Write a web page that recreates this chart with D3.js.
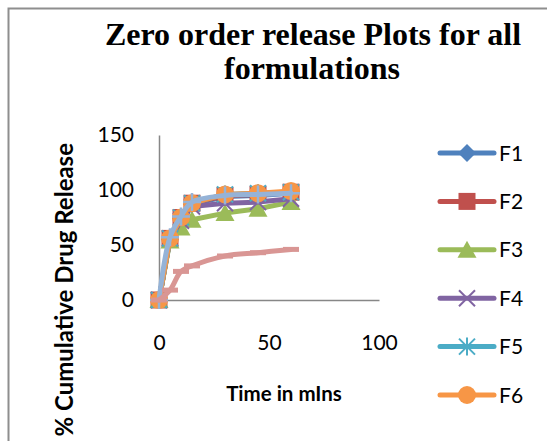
<!DOCTYPE html>
<html>
<head>
<meta charset="utf-8">
<script src="https://cdn.jsdelivr.net/npm/d3@7"></script>
<style>
  html, body { margin: 0; padding: 0; background: #ffffff; }
  svg { display: block; }
</style>
</head>
<body>
<svg id="chart" width="547" height="441"></svg>
<script>
// Sampling times (minutes)
const times = [0, 5, 10, 15, 30, 45, 60];

// Cumulative % drug release per formulation
const seriesNames = ["F1", "F2", "F3", "F4", "F5", "F6"];
const f1 = [0, 55, 74, 87, 94, 95, 97];
const f2 = [0, 56, 75, 88, 95, 96, 98];
const f3 = [0, 54, 66, 73, 79, 83, 89];
const f4 = [0, 56, 72, 85, 88, 89, 92];
const f5 = [0, 56, 75, 88, 96, 97, 98];
const f6 = [0, 56, 75, 88, 96, 97, 99];
// Two further smoothed series plotted without legend entries
const f7 = [0, 57, 76, 89, 95, 96, 97];
const f8 = [0, 9, 26, 31, 40, 43, 46];

const xTicks = [0, 50, 100];
const yTicks = [0, 50, 100, 150];

const colors = ["#4F81BD", "#C0504D", "#9BBB59", "#8064A2", "#4BACC6", "#F79646"];
const markerKinds = ["diamond", "square", "triangle", "x", "star", "circle"];
const values = [f1, f2, f3, f4, f5, f6];

const svg = d3.select("#chart");
const W = 547, H = 441;

// chart frame
svg.append("rect").attr("x", 0).attr("y", 0).attr("width", W).attr("height", H).attr("fill", "#fff");
svg.append("rect")
  .attr("x", 8.5).attr("y", 8.5).attr("width", 600).attr("height", 500)
  .attr("fill", "none").attr("stroke", "#8e8e8e").attr("stroke-width", 2);

// title
const title = svg.append("text")
  .attr("text-anchor", "middle")
  .attr("font-family", "'Liberation Serif', 'Times New Roman', serif")
  .attr("font-weight", "bold")
  .attr("font-size", 32)
  .attr("fill", "#000");
title.append("tspan").attr("x", 313).attr("y", 45).text("Zero order release Plots for all");
title.append("tspan").attr("x", 312).attr("y", 79).text("formulations");

// scales
const x = d3.scaleLinear().domain([0, 100]).range([159, 379]);
const y = d3.scaleLinear().domain([0, 150]).range([300, 135]);

const tickFont = "Lato, 'Open Sans', sans-serif";

// y axis
const yAxis = svg.append("g").attr("transform", `translate(${x(0)},0)`)
  .call(d3.axisLeft(y).tickValues(yTicks).tickSize(0).tickSizeOuter(0).tickPadding(25).tickFormat(d3.format("d")));
yAxis.select(".domain").attr("stroke", "#878787").attr("stroke-width", 1.5);
yAxis.selectAll("text").attr("font-family", tickFont).attr("font-size", 21).attr("fill", "#000");

// x axis
const xAxis = svg.append("g").attr("transform", `translate(0,${y(0)})`)
  .call(d3.axisBottom(x).tickValues(xTicks).tickSize(0).tickSizeOuter(0).tickFormat(d3.format("d")));
xAxis.select(".domain").attr("stroke", "#878787").attr("stroke-width", 1.5);
xAxis.selectAll("text").attr("font-family", tickFont).attr("font-size", 21).attr("fill", "#000")
  .attr("y", 43).attr("dy", "0.35em");

// axis titles
svg.append("text")
  .attr("x", 284).attr("y", 401)
  .attr("text-anchor", "middle")
  .attr("font-family", tickFont).attr("font-weight", "bold").attr("font-size", 20.5)
  .attr("fill", "#000")
  .text("Time in mIns");

const yTitle = svg.append("text")
  .attr("transform", "translate(73,143) rotate(-90)")
  .attr("text-anchor", "end")
  .attr("font-family", tickFont).attr("font-weight", "bold").attr("font-size", 24)
  .attr("fill", "#000")
  .text("% Cumulative Drug Release");
// keep the rotated title within the frame height below the top of the plot
const yTitleLen = yTitle.node().getComputedTextLength();
if (yTitleLen > 296) yTitle.attr("font-size", 24 * 296 / yTitleLen);

// marker shapes
function drawMarker(g, kind, color, cx, cy) {
  const r = 9;
  if (kind === "diamond") {
    g.append("path").attr("d", `M${cx},${cy - r}L${cx + r},${cy}L${cx},${cy + r}L${cx - r},${cy}Z`).attr("fill", color);
  } else if (kind === "square") {
    g.append("rect").attr("x", cx - 8.5).attr("y", cy - 8.5).attr("width", 17).attr("height", 17).attr("fill", color);
  } else if (kind === "triangle") {
    g.append("path").attr("d", `M${cx},${cy - 9}L${cx + 9.5},${cy + 8}L${cx - 9.5},${cy + 8}Z`).attr("fill", color);
  } else if (kind === "x") {
    g.append("path").attr("d", `M${cx - 8},${cy - 8}L${cx + 8},${cy + 8}M${cx - 8},${cy + 8}L${cx + 8},${cy - 8}`)
      .attr("stroke", color).attr("stroke-width", 2).attr("fill", "none");
  } else if (kind === "star") {
    g.append("path").attr("d", `M${cx - 8},${cy - 8}L${cx + 8},${cy + 8}M${cx - 8},${cy + 8}L${cx + 8},${cy - 8}M${cx},${cy - 9}L${cx},${cy + 9}`)
      .attr("stroke", color).attr("stroke-width", 2).attr("fill", "none");
  } else if (kind === "circle") {
    g.append("circle").attr("cx", cx).attr("cy", cy).attr("r", 9).attr("fill", color);
  } else if (kind === "plus") {
    g.append("path").attr("d", `M${cx - 9},${cy}L${cx + 9},${cy}M${cx},${cy - 9}L${cx},${cy + 9}`)
      .attr("stroke", color).attr("stroke-width", 2.5).attr("fill", "none");
  } else if (kind === "dash") {
    g.append("rect").attr("x", cx - 8).attr("y", cy - 2.5).attr("width", 16).attr("height", 5).attr("fill", color);
  }
}

const straight = d3.line().x((d, i) => x(times[i])).y(d => y(d));
const smooth = d3.line().x((d, i) => x(times[i])).y(d => y(d)).curve(d3.curveCatmullRom.alpha(0.5));

const plot = svg.append("g");

values.forEach((vals, k) => {
  const g = plot.append("g");
  g.append("path").attr("d", straight(vals))
    .attr("fill", "none").attr("stroke", colors[k]).attr("stroke-width", 5)
    .attr("stroke-linejoin", "round").attr("stroke-linecap", "round");
  vals.forEach((v, i) => drawMarker(g, markerKinds[k], colors[k], x(times[i]), y(v)));
});

// smoothed series
const gA = plot.append("g");
gA.append("path").attr("d", smooth(f7))
  .attr("fill", "none").attr("stroke", "#95B3D7").attr("stroke-width", 5)
  .attr("stroke-linejoin", "round").attr("stroke-linecap", "round");
f7.forEach((v, i) => drawMarker(gA, "plus", "#95B3D7", x(times[i]), y(v)));

const gB = plot.append("g");
gB.append("path").attr("d", smooth(f8))
  .attr("fill", "none").attr("stroke", "#D99694").attr("stroke-width", 5)
  .attr("stroke-linejoin", "round").attr("stroke-linecap", "round");
f8.forEach((v, i) => drawMarker(gB, "dash", "#D99694", x(times[i]), y(v)));

// legend
const legend = svg.append("g");
seriesNames.forEach((name, k) => {
  const ly = 153 + k * 48.4;
  const g = legend.append("g");
  g.append("line").attr("x1", 440).attr("x2", 494).attr("y1", ly).attr("y2", ly)
    .attr("stroke", colors[k]).attr("stroke-width", 5).attr("stroke-linecap", "round");
  drawMarker(g, markerKinds[k], colors[k], 467, ly);
  g.append("text").attr("x", 499).attr("y", ly).attr("dy", "0.36em")
    .attr("font-family", tickFont).attr("font-size", 21).attr("fill", "#000")
    .text(name);
});
</script>
</body>
</html>
